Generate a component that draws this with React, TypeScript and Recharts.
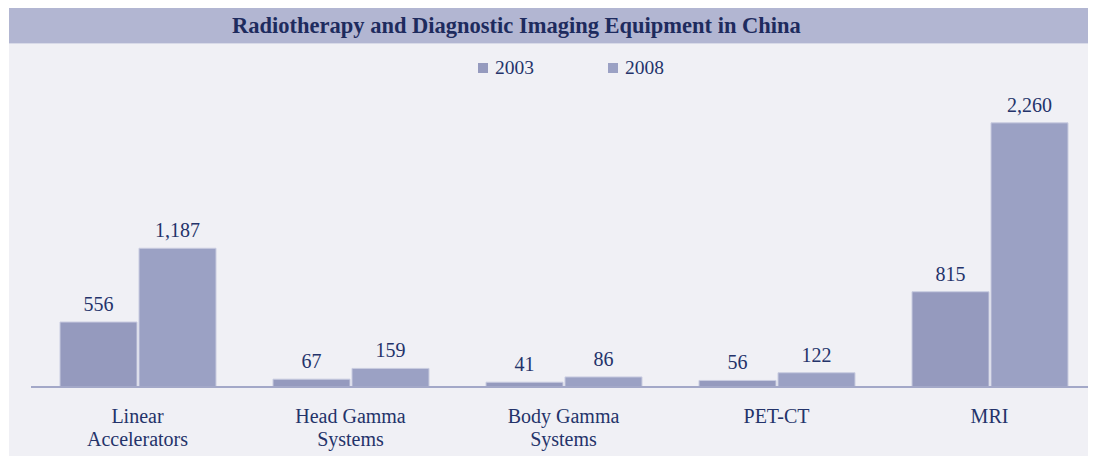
import { BarChart, Bar, XAxis, YAxis, LabelList, Legend } from 'recharts';

const categories = ['Linear Accelerators', 'Head Gamma Systems', 'Body Gamma Systems', 'PET-CT', 'MRI'];
const tickLines = [['Linear', 'Accelerators'], ['Head Gamma', 'Systems'], ['Body Gamma', 'Systems'], ['PET-CT'], ['MRI']];
const values2003 = [556, 67, 41, 56, 815];
const values2008 = [1187, 159, 86, 122, 2260];

const data = categories.map((name, i) => ({
  name,
  y2003: values2003[i],
  y2008: values2008[i],
}));

const INK = '#24336a';
const COLOR_2003 = '#959abe';
const COLOR_2008 = '#9ba1c4';
const FONT = "'Liberation Serif', 'Times New Roman', serif";

function CategoryTick(props: any) {
  const { x, y, payload } = props;
  const lines = tickLines[payload.index] ?? [payload.value];
  return (
    <text x={x} y={y} textAnchor="middle" fill={INK} style={{ fontFamily: FONT, fontSize: 20 }}>
      {lines.map((l, i) => (
        <tspan key={i} x={x} dy={i === 0 ? 28 : 23}>
          {l}
        </tspan>
      ))}
    </text>
  );
}

function LegendBox() {
  const items = [
    { label: '2003', color: COLOR_2003 },
    { label: '2008', color: COLOR_2008 },
  ];
  return (
    <div style={{ display: 'flex', fontFamily: FONT, fontSize: 19.5, color: INK, paddingLeft: 469 }}>
      {items.map((it, i) => (
        <div key={it.label} style={{ display: 'flex', alignItems: 'center', marginRight: i === 0 ? 74 : 0 }}>
          <span style={{ width: 10, height: 10, background: it.color, display: 'inline-block', marginRight: 7 }} />
          <span>{it.label}</span>
        </div>
      ))}
    </div>
  );
}

const fmt = (v: any) => Number(v).toLocaleString('en-US');

export default function App() {
  return (
    <div style={{ width: 1087, marginLeft: 1, background: '#f0f0f5', fontFamily: FONT }}>
      <div
        style={{
          height: 35,
          background: '#b2b6d2',
          borderBottom: '1px solid #d8dae8',
          color: '#1e2b5e',
          fontWeight: 'bold',
          fontSize: 22.5,
          lineHeight: '35px',
          paddingLeft: 223,
        }}
      >
        Radiotherapy and Diagnostic Imaging Equipment in China
      </div>
      <BarChart
        width={1087}
        height={412}
        data={data}
        margin={{ top: 44, right: 0, left: 22, bottom: 0 }}
        barCategoryGap={29}
        barGap={2}
        style={{ fontFamily: FONT }}
      >
        <Legend
          verticalAlign="top"
          content={() => <LegendBox />}
          wrapperStyle={{ position: 'absolute', top: 13, left: 0, width: 1087 }}
        />
        <XAxis
          dataKey="name"
          axisLine={{ stroke: '#a3a8c8', strokeWidth: 2 }}
          tickLine={false}
          height={69}
          interval={0}
          tick={<CategoryTick />}
        />
        <YAxis hide domain={[0, 2370]} />
        <Bar dataKey="y2003" name="2003" fill={COLOR_2003} stroke="#c9cce0" strokeWidth={1} isAnimationActive={false}>
          <LabelList
            dataKey="y2003"
            position="top"
            offset={11}
            fill={INK}
            style={{ fontFamily: FONT, fontSize: 20 }}
            formatter={fmt}
          />
        </Bar>
        <Bar dataKey="y2008" name="2008" fill={COLOR_2008} stroke="#c9cce0" strokeWidth={1} isAnimationActive={false}>
          <LabelList
            dataKey="y2008"
            position="top"
            offset={11}
            fill={INK}
            style={{ fontFamily: FONT, fontSize: 20 }}
            formatter={fmt}
          />
        </Bar>
      </BarChart>
    </div>
  );
}
